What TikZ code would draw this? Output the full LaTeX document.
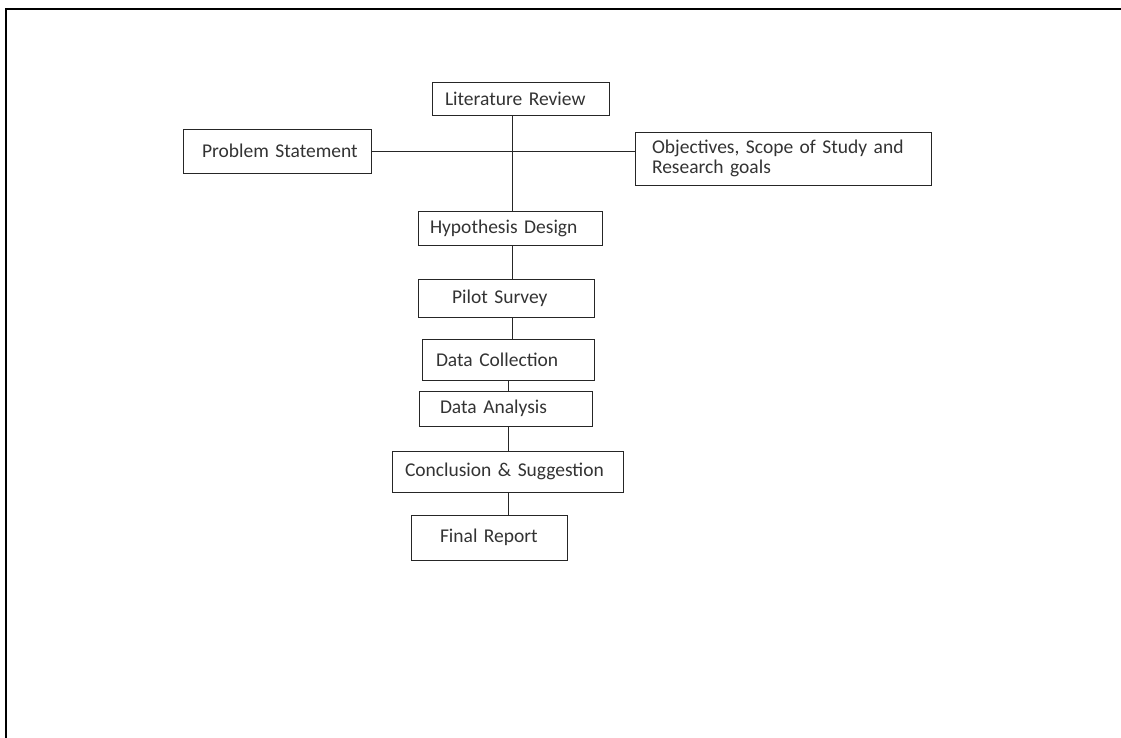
\documentclass[tikz,border=0pt]{standalone}
\usepackage{fontspec}
\setmainfont{Carlito}
\tikzset{
  stage/.style={draw=black!85, line width=0.9pt, text=black!80,
    align=left, font=\fontsize{19.5}{20.5}\selectfont},
  link/.style={draw=black!85, line width=0.9pt}
}

\begin{document}
\begin{tikzpicture}[x=1pt,y=-1pt]
      \useasboundingbox (0,0) rectangle (1121,738);
      \draw[line width=2.2pt] (6.3,738) -- (6.3,9) -- (1121,9);
      \node[stage, minimum width=177, minimum height=33, inner xsep=13, text width=151] (lit) at (520.5,98.5) {\mbox{Literature Review}};
      \node[stage, minimum width=188, minimum height=44, inner xsep=19, text width=150] (prob) at (277,151) {\mbox{Problem Statement}};
      \node[stage, minimum width=296, minimum height=53, inner xsep=17, text width=262] (obj) at (783,158.5) {Objectives, Scope of Study and\\Research goals};
      \node[stage, minimum width=184, minimum height=34, inner xsep=12, text width=160] (hyp) at (510,228) {\mbox{Hypothesis Design}};
      \node[stage, minimum width=176, minimum height=38, inner xsep=34, text width=108] (pilot) at (506,298) {Pilot Survey};
      \node[stage, minimum width=172, minimum height=41, inner xsep=14, text width=144] (coll) at (508,360) {Data Collection};
      \node[stage, minimum width=173, minimum height=35, inner xsep=21, text width=131] (anal) at (505.5,408.5) {Data Analysis};
      \node[stage, minimum width=231, minimum height=41, inner xsep=13, text width=205] (concl) at (507.5,471.5) {\mbox{Conclusion \& Suggestion}};
      \node[stage, minimum width=156, minimum height=45, inner xsep=29, text width=98] (final) at (489,537.5) {\mbox{Final Report}};
      \coordinate (upper) at (512,0);
      \coordinate (lower) at (508,0);
      \draw[link]
	(prob.east) to (prob.east -| obj.west)
	(lit.south -| upper) to (hyp.north -| upper)
	(hyp.south -| upper) to (pilot.north -| upper)
	(pilot.south -| upper) to (coll.north -| upper)
	(coll.south -| lower) to (anal.north -| lower)
	(anal.south -| lower) to (concl.north -| lower)
	(concl.south -| lower) to (final.north -| lower);
    \end{tikzpicture}
\end{document}
